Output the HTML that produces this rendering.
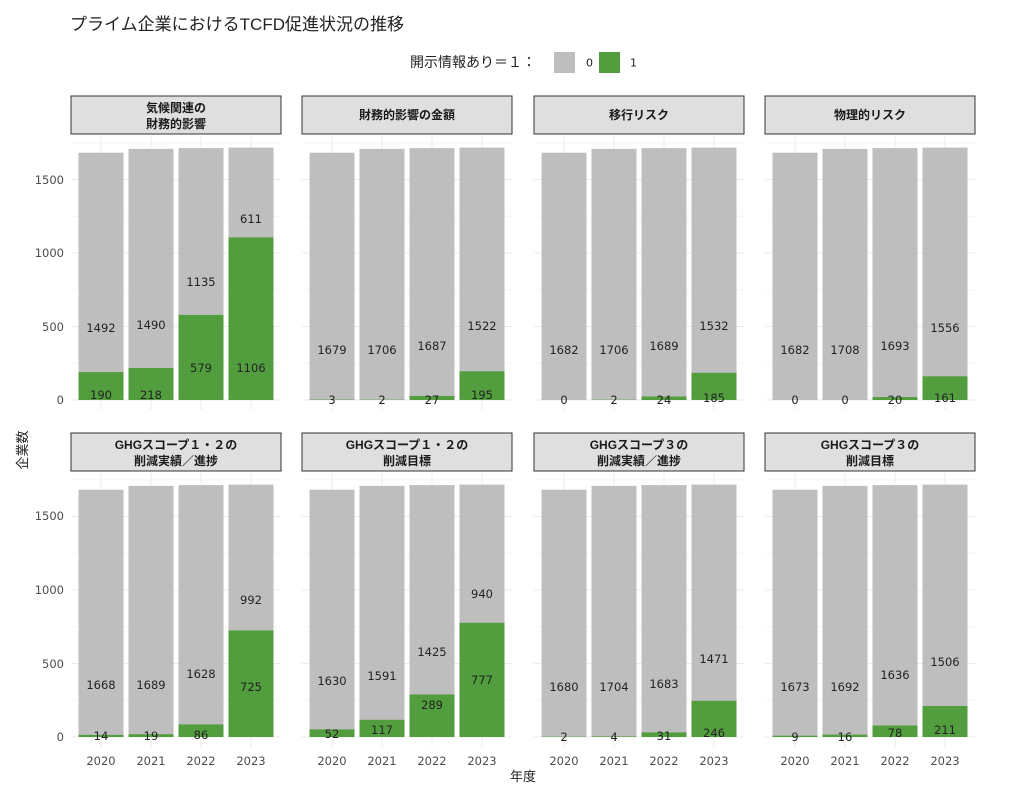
<!DOCTYPE html>
<html><head><meta charset="utf-8"><style>
body{margin:0;background:#fff}
svg{display:block;font-family:"Liberation Sans","Noto Sans CJK JP",sans-serif}
.g{fill:#bebebe}.n{fill:#529e3e}
.mj{stroke:#ebebeb;stroke-width:1}.mn{stroke:#f5f5f5;stroke-width:1}
.lb{font-family:"DejaVu Sans",sans-serif;font-size:11.5px;fill:#222;text-anchor:middle;dominant-baseline:central}
.st{font-size:12px;font-weight:bold;fill:#1a1a1a;text-anchor:middle;dominant-baseline:central}
.tk{font-family:"DejaVu Sans",sans-serif;font-size:11.5px;fill:#4d4d4d;dominant-baseline:central}
</style></head><body>
<svg width="1024" height="794" viewBox="0 0 1024 794">
<defs>
<g id="grid">
<line class="mn" x1="0" x2="210" y1="-36.75" y2="-36.75"/><line class="mn" x1="0" x2="210" y1="-110.25" y2="-110.25"/><line class="mn" x1="0" x2="210" y1="-183.75" y2="-183.75"/><line class="mn" x1="0" x2="210" y1="-257.25" y2="-257.25"/>
<line class="mj" x1="0" x2="210" y1="0" y2="0"/><line class="mj" x1="0" x2="210" y1="-73.5" y2="-73.5"/><line class="mj" x1="0" x2="210" y1="-147" y2="-147"/><line class="mj" x1="0" x2="210" y1="-220.5" y2="-220.5"/>
<line class="mj" x1="30" x2="30" y1="-264" y2="10"/><line class="mj" x1="80" x2="80" y1="-264" y2="10"/><line class="mj" x1="130" x2="130" y1="-264" y2="10"/><line class="mj" x1="180" x2="180" y1="-264" y2="10"/>
<rect x="0" y="-304" width="210" height="38" fill="#dfdfdf" stroke="#333" stroke-width="1"/>
<rect class="g" x="7.5" y="-247.3" width="45" height="247.3"/><rect class="g" x="57.5" y="-251.1" width="45" height="251.1"/><rect class="g" x="107.5" y="-251.9" width="45" height="251.9"/><rect class="g" x="157.5" y="-252.4" width="45" height="252.4"/>
</g>
</defs>
<text x="70" y="30" font-size="17" fill="#222">プライム企業におけるTCFD促進状況の推移</text>
<text x="410" y="62" font-size="14" fill="#222" dominant-baseline="central">開示情報あり＝１：</text>
<rect x="554" y="52" width="21" height="21" fill="#bebebe"/><text x="586" y="63" font-size="11" fill="#222" dominant-baseline="central" font-family="DejaVu Sans,sans-serif">0</text>
<rect x="599" y="52" width="21" height="21" fill="#529e3e"/><text x="630" y="63" font-size="11" fill="#222" dominant-baseline="central" font-family="DejaVu Sans,sans-serif">1</text>
<text transform="translate(27,450) rotate(-90)" font-size="13" fill="#222" text-anchor="middle">企業数</text>
<text x="523" y="781" font-size="13" fill="#222" text-anchor="middle">年度</text>
<g class="tk" text-anchor="end">
<text x="64" y="400">0</text><text x="64" y="327">500</text><text x="64" y="253">1000</text><text x="64" y="180">1500</text>
<text x="64" y="737">0</text><text x="64" y="664">500</text><text x="64" y="590">1000</text><text x="64" y="516">1500</text>
</g>

<g transform="translate(71,400)"><use href="#grid"/>
<text class="st" x="105" y="-292">気候関連の</text><text class="st" x="105" y="-276">財務的影響</text>
<rect class="n" x="7.5" y="-27.9" width="45" height="27.9"/><rect class="n" x="57.5" y="-32" width="45" height="32"/><rect class="n" x="107.5" y="-85.1" width="45" height="85.1"/><rect class="n" x="157.5" y="-162.6" width="45" height="162.6"/>
<text class="lb" x="30" y="-72">1492</text><text class="lb" x="80" y="-75">1490</text><text class="lb" x="130" y="-118">1135</text><text class="lb" x="180" y="-181">611</text>
<text class="lb" x="30" y="-5">190</text><text class="lb" x="80" y="-5">218</text><text class="lb" x="130" y="-32">579</text><text class="lb" x="180" y="-32">1106</text>
</g>
<g transform="translate(302,400)"><use href="#grid"/>
<text class="st" x="105" y="-285">財務的影響の金額</text>
<rect class="n" x="7.5" y="-0.4" width="45" height="0.4"/><rect class="n" x="57.5" y="-0.3" width="45" height="0.3"/><rect class="n" x="107.5" y="-4" width="45" height="4"/><rect class="n" x="157.5" y="-28.7" width="45" height="28.7"/>
<text class="lb" x="30" y="-50">1679</text><text class="lb" x="80" y="-50">1706</text><text class="lb" x="130" y="-54">1687</text><text class="lb" x="180" y="-74">1522</text>
<text class="lb" x="30" y="0">3</text><text class="lb" x="80" y="0">2</text><text class="lb" x="130" y="0">27</text><text class="lb" x="180" y="-5">195</text>
</g>
<g transform="translate(534,400)"><use href="#grid"/>
<text class="st" x="105" y="-285">移行リスク</text>
<rect class="n" x="57.5" y="-0.3" width="45" height="0.3"/><rect class="n" x="107.5" y="-3.5" width="45" height="3.5"/><rect class="n" x="157.5" y="-27.2" width="45" height="27.2"/>
<text class="lb" x="30" y="-50">1682</text><text class="lb" x="80" y="-50">1706</text><text class="lb" x="130" y="-54">1689</text><text class="lb" x="180" y="-74">1532</text>
<text class="lb" x="30" y="0">0</text><text class="lb" x="80" y="0">2</text><text class="lb" x="130" y="0">24</text><text class="lb" x="180" y="-2">185</text>
</g>
<g transform="translate(765,400)"><use href="#grid"/>
<text class="st" x="105" y="-285">物理的リスク</text>
<rect class="n" x="107.5" y="-2.9" width="45" height="2.9"/><rect class="n" x="157.5" y="-23.7" width="45" height="23.7"/>
<text class="lb" x="30" y="-50">1682</text><text class="lb" x="80" y="-50">1708</text><text class="lb" x="130" y="-54">1693</text><text class="lb" x="180" y="-72">1556</text>
<text class="lb" x="30" y="0">0</text><text class="lb" x="80" y="0">0</text><text class="lb" x="130" y="0">20</text><text class="lb" x="180" y="-2">161</text>
</g>
<g transform="translate(71,737)"><use href="#grid"/>
<text class="st" x="105" y="-292">GHGスコープ１・２の</text><text class="st" x="105" y="-276">削減実績／進捗</text>
<rect class="n" x="7.5" y="-2.1" width="45" height="2.1"/><rect class="n" x="57.5" y="-2.8" width="45" height="2.8"/><rect class="n" x="107.5" y="-12.6" width="45" height="12.6"/><rect class="n" x="157.5" y="-106.6" width="45" height="106.6"/>
<text class="lb" x="30" y="-52">1668</text><text class="lb" x="80" y="-52">1689</text><text class="lb" x="130" y="-63">1628</text><text class="lb" x="180" y="-137">992</text>
<text class="lb" x="30" y="-1">14</text><text class="lb" x="80" y="-1">19</text><text class="lb" x="130" y="-2">86</text><text class="lb" x="180" y="-50">725</text>
<g class="tk" text-anchor="middle"><text x="30" y="24">2020</text><text x="80" y="24">2021</text><text x="130" y="24">2022</text><text x="180" y="24">2023</text></g>
</g>
<g transform="translate(302,737)"><use href="#grid"/>
<text class="st" x="105" y="-292">GHGスコープ１・２の</text><text class="st" x="105" y="-276">削減目標</text>
<rect class="n" x="7.5" y="-7.6" width="45" height="7.6"/><rect class="n" x="57.5" y="-17.2" width="45" height="17.2"/><rect class="n" x="107.5" y="-42.5" width="45" height="42.5"/><rect class="n" x="157.5" y="-114.2" width="45" height="114.2"/>
<text class="lb" x="30" y="-56">1630</text><text class="lb" x="80" y="-61">1591</text><text class="lb" x="130" y="-85">1425</text><text class="lb" x="180" y="-143">940</text>
<text class="lb" x="30" y="-3">52</text><text class="lb" x="80" y="-7">117</text><text class="lb" x="130" y="-32">289</text><text class="lb" x="180" y="-57">777</text>
<g class="tk" text-anchor="middle"><text x="30" y="24">2020</text><text x="80" y="24">2021</text><text x="130" y="24">2022</text><text x="180" y="24">2023</text></g>
</g>
<g transform="translate(534,737)"><use href="#grid"/>
<text class="st" x="105" y="-292">GHGスコープ３の</text><text class="st" x="105" y="-276">削減実績／進捗</text>
<rect class="n" x="7.5" y="-0.3" width="45" height="0.3"/><rect class="n" x="57.5" y="-0.6" width="45" height="0.6"/><rect class="n" x="107.5" y="-4.6" width="45" height="4.6"/><rect class="n" x="157.5" y="-36.2" width="45" height="36.2"/>
<text class="lb" x="30" y="-50">1680</text><text class="lb" x="80" y="-50">1704</text><text class="lb" x="130" y="-53">1683</text><text class="lb" x="180" y="-78">1471</text>
<text class="lb" x="30" y="0">2</text><text class="lb" x="80" y="0">4</text><text class="lb" x="130" y="-1">31</text><text class="lb" x="180" y="-4">246</text>
<g class="tk" text-anchor="middle"><text x="30" y="24">2020</text><text x="80" y="24">2021</text><text x="130" y="24">2022</text><text x="180" y="24">2023</text></g>
</g>
<g transform="translate(765,737)"><use href="#grid"/>
<text class="st" x="105" y="-292">GHGスコープ３の</text><text class="st" x="105" y="-276">削減目標</text>
<rect class="n" x="7.5" y="-1.3" width="45" height="1.3"/><rect class="n" x="57.5" y="-2.4" width="45" height="2.4"/><rect class="n" x="107.5" y="-11.5" width="45" height="11.5"/><rect class="n" x="157.5" y="-31" width="45" height="31"/>
<text class="lb" x="30" y="-50">1673</text><text class="lb" x="80" y="-50">1692</text><text class="lb" x="130" y="-62">1636</text><text class="lb" x="180" y="-75">1506</text>
<text class="lb" x="30" y="0">9</text><text class="lb" x="80" y="0">16</text><text class="lb" x="130" y="-4">78</text><text class="lb" x="180" y="-7">211</text>
<g class="tk" text-anchor="middle"><text x="30" y="24">2020</text><text x="80" y="24">2021</text><text x="130" y="24">2022</text><text x="180" y="24">2023</text></g>
</g>
</svg>
</body></html>
